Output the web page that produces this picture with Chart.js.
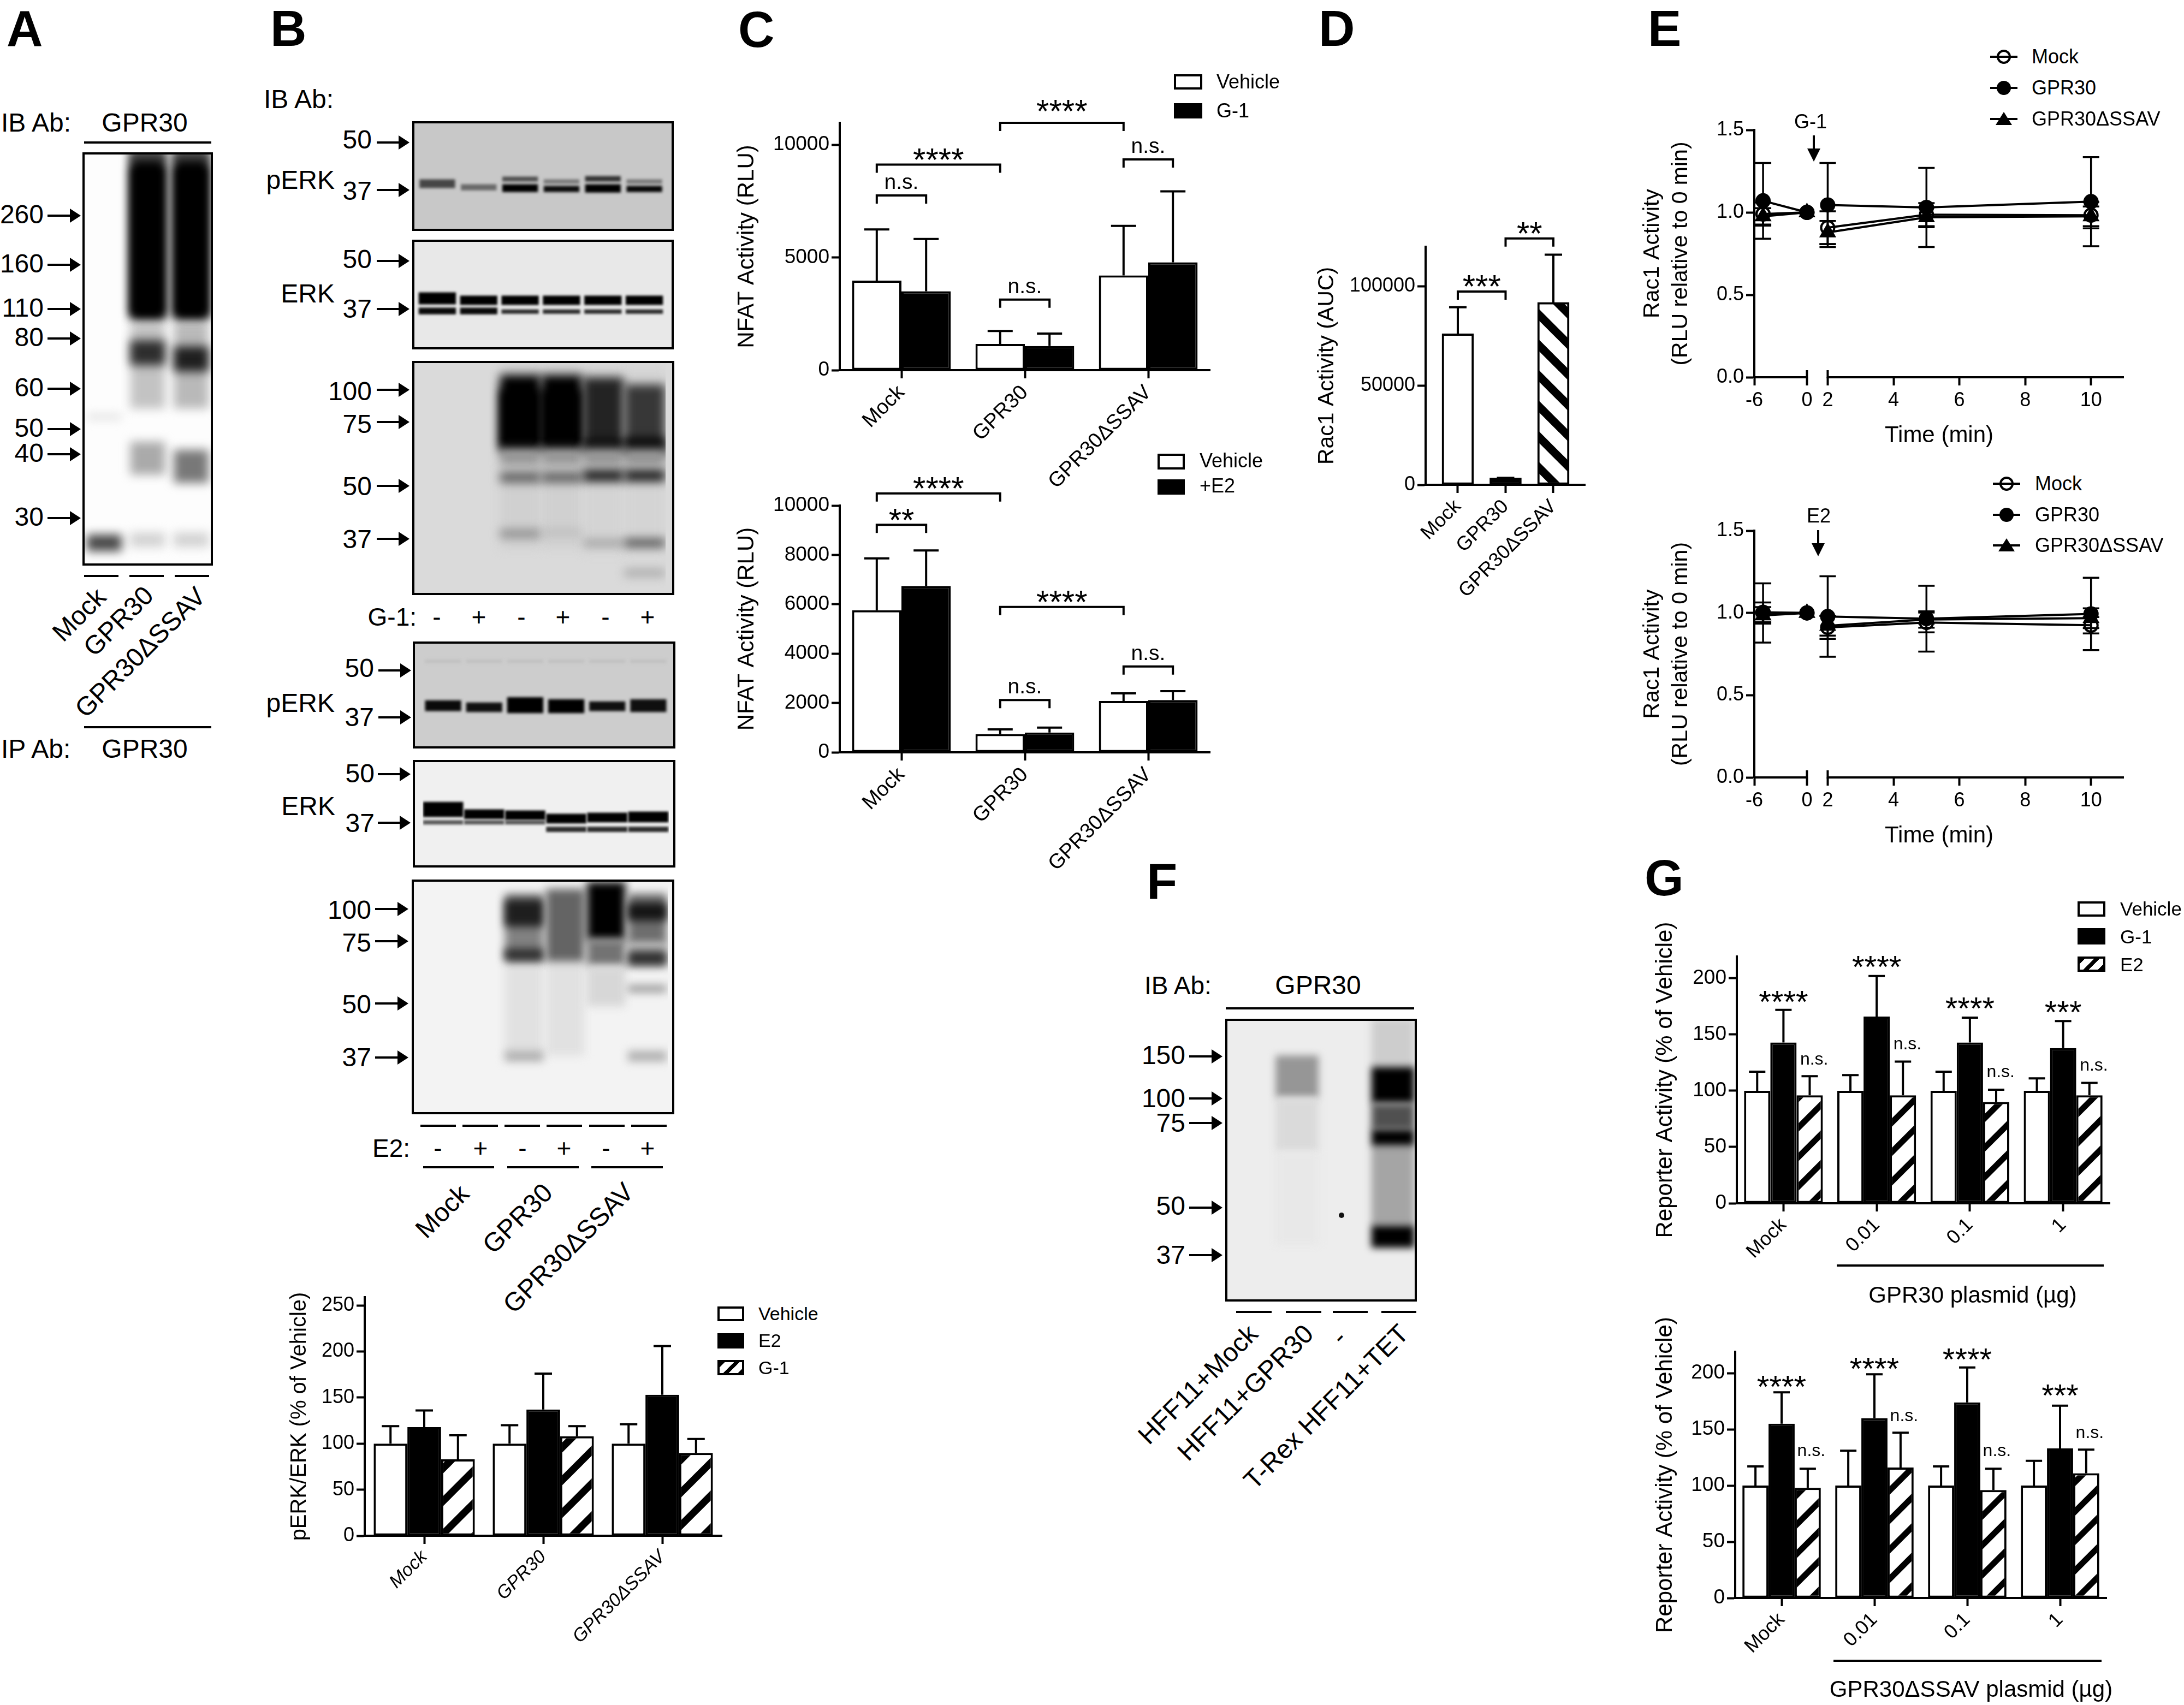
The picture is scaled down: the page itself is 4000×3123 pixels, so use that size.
<!DOCTYPE html>
<html>
<head>
<meta charset="utf-8">
<title>GPR30 figure</title>
<script src="https://cdn.jsdelivr.net/npm/chart.js@4"></script>
<style>
    body { margin: 0; background: #fff; }
    #page { position: relative; width: 4000px; height: 3123px; overflow: hidden; background: #fff; font-family: "Liberation Sans", Arial, sans-serif; color: #000; }
    #page canvas { position: absolute; }
    #page span { position: absolute; white-space: nowrap; line-height: 1; }
    #page svg { position: absolute; left: 0; top: 0; }
    .box { position: absolute; box-sizing: border-box; }
</style>
</head>
<body>
<div id="page"></div>
<script>
// ---- values ----
const mutantName = 'GPR30\u0394SSAV';
const constructs = ['Mock', 'GPR30', mutantName];
const doses = ['Mock', '0.01', '0.1', '1'];

// panel B, pERK/ERK
const erkTicks = [0, 50, 100, 150, 200, 250];
const erkVehicle = [100, 100, 100];
const erkVehicleTop = [119, 120, 121];
const erkE2 = [118, 137, 153];
const erkE2Top = [136, 176, 206];
const erkG1 = [83, 108, 90];
const erkG1Top = [109, 119, 105];

// panel C
const nfatTicksTop = [0, 5000, 10000];
const nfatVehicleTop = [3970, 1160, 4200];
const nfatVehicleTopErr = [6240, 1740, 6400];
const nfatG1 = [3500, 1070, 4780];
const nfatG1Err = [5820, 1620, 7930];
const nfatBracketsTop = [[-0.2, 0.2, 7750, 'n.s.'], [-0.2, 0.8, 9120, '****'], [0.8, 1.8, 10970, '****', 12], [1.8, 2.2, 9350, 'n.s.'], [0.8, 1.2, 3130, 'n.s.']];

const nfatTicksLow = [0, 2000, 4000, 6000, 8000, 10000];
const nfatVehicleLow = [5760, 740, 2080];
const nfatVehicleLowErr = [7860, 930, 2390];
const nfatE2 = [6740, 800, 2120];
const nfatE2Err = [8180, 1000, 2480];
const nfatBracketsLow = [[-0.2, 0.8, 10490, '****'], [-0.2, 0.2, 9220, '**'], [0.8, 1.8, 5890, '****'], [0.8, 1.2, 2120, 'n.s.'], [1.8, 2.2, 3480, 'n.s.']];

// panel D
const aucTicks = [0, 50000, 100000];
const aucValues = [76000, 3500, 91800];
const aucTops = [89400, 3500, 115800];
const aucBrackets = [[0, 1, 97300, '***'], [1, 2, 124000, '**']];

// panel E
const timeTicks = [-6, 0, 2, 4, 6, 8, 10];
const timePoints = [-5, 0, 2, 5, 10];
const racTicks = [0, 0.5, 1, 1.5];
const racMockG1 = [0.99, 1, 0.907, 0.986, 0.983];
const racGprG1 = [1.07, 1, 1.045, 1.03, 1.065];
const racMutG1 = [0.976, 1, 0.878, 0.97, 0.976];
const racMockG1Err = [0.07, 0, 0.1, 0.07, 0.08];
const racGprG1Err = [0.23, 0, 0.255, 0.24, 0.27];
const racMutG1Err = [0.05, 0, 0.07, 0.06, 0.06];
const racMockE2 = [1.004, 1, 0.912, 0.942, 0.925];
const racGprE2 = [1, 1, 0.978, 0.965, 0.994];
const racMutE2 = [0.985, 1, 0.922, 0.96, 0.968];
const racMockE2Err = [0.06, 0, 0.07, 0.06, 0.05];
const racGprE2Err = [0.18, 0, 0.245, 0.2, 0.22];
const racMutE2Err = [0.05, 0, 0.06, 0.05, 0.06];

// panel G
const reporterTicks = [0, 50, 100, 150, 200];
const gprVehicle = [100, 100, 100, 100];
const gprVehicleTop = [117, 114, 117, 111];
const gprG1 = [143, 166, 143, 138];
const gprG1Top = [172, 202, 165, 162];
const gprE2 = [96, 96, 90, 96];
const gprE2Top = [113, 126, 101, 107];
const gprNotes = [[0, 186, '****'], [1, 217, '****'], [2, 180, '****'], [3, 177, '***'], [0.33, 127, 'n.s.'], [1.33, 141, 'n.s.'], [2.33, 116, 'n.s.'], [3.33, 122, 'n.s.']];
const mutVehicle = [100, 100, 100, 100];
const mutVehicleTop = [117, 131, 117, 122];
const mutG1 = [155, 160, 174, 133];
const mutG1Top = [183, 199, 205, 171];
const mutE2 = [98, 116, 96, 111];
const mutE2Top = [115, 147, 115, 132];
const mutNotes = [[0, 195, '****'], [1, 211, '****'], [2, 219, '****'], [3, 187, '***'], [0.32, 130, 'n.s.'], [1.32, 161, 'n.s.'], [2.32, 130, 'n.s.'], [3.32, 146, 'n.s.']];

// blots: lanes hit, band top and bottom (% of the panel height), grey level
const blotALanes = [[1], [2], [1, 2], [1, 2], [1], [2], [1], [2], [1, 2], [0], [0], [1, 2]];
const blotATop = [41, 41, 0, 3, 45.5, 47, 70, 72, 92, 63.5, 92.5, 0];
const blotABottom = [62, 62, 40, 40, 51.5, 53, 78, 80, 95.5, 64.5, 96.5, 2];
const blotAGrey = [195, 185, 0, 0, 45, 30, 170, 120, 210, 215, 70, 70];

const blotB1Lanes = [[0], [1], [2], [3], [4], [5], [2], [3], [4], [5]];
const blotB1Top = [53, 57.5, 50.5, 53, 50, 53, 57.5, 59, 57.5, 59];
const blotB1Bottom = [61, 63, 55, 57, 55, 57, 64.5, 64.5, 65, 64.5];
const blotB1Grey = [70, 105, 80, 120, 50, 120, 0, 10, 0, 5];

const blotB2Lanes = [[0], [1, 2, 3, 4, 5], [0, 1], [2, 3, 4, 5]];
const blotB2Top = [48, 51, 62, 63.5];
const blotB2Bottom = [59, 59.5, 68, 67.5];
const blotB2Grey = [0, 0, 10, 45];

const blotB3Lanes = [[2, 3], [4, 5], [2, 3], [2, 3], [4], [5], [4], [5], [2, 3, 4, 5], [2, 3], [4, 5], [2], [3], [4], [5], [5]];
const blotB3Top = [2, 3, 6, 12, 7, 10, 34, 33, 37.5, 47.5, 46.5, 72, 72, 76.5, 76, 89];
const blotB3Bottom = [80, 82, 38, 38, 38, 38, 39, 40, 44.5, 52, 51.5, 75.5, 74.5, 79, 79.5, 92];
const blotB3Grey = [208, 212, 0, 0, 35, 55, 0, 0, 150, 95, 25, 140, 185, 150, 80, 165];

const blotB4Lanes = [[0, 1, 2, 3, 4, 5], [0], [1], [2], [3], [4], [5]];
const blotB4Top = [17, 55, 57, 52, 54, 56, 54];
const blotB4Bottom = [20, 65, 66, 67, 67, 65, 66];
const blotB4Grey = [192, 10, 15, 0, 0, 15, 15];

const blotB5Lanes = [[0], [1], [2], [3], [4], [5], [0, 1, 2], [3, 4, 5]];
const blotB5Top = [39, 46, 47, 50, 49, 48, 56, 62];
const blotB5Bottom = [53, 55, 56, 59, 58, 58, 60, 67];
const blotB5Grey = [0, 0, 0, 0, 0, 0, 90, 45];

const blotB6Lanes = [[2, 3], [2], [2], [2], [3], [4], [4], [4], [5], [5], [5], [5], [5], [2, 5]];
const blotB6Top = [35, 6, 8.5, 29.5, 4, 1, 25.5, 37, 6, 10, 27, 30.5, 45, 73];
const blotB6Bottom = [75, 35, 20, 34.5, 35, 26, 37, 54, 28, 17.5, 37, 36.5, 48, 77.5];
const blotB6Grey = [225, 130, 30, 45, 100, 0, 115, 215, 110, 20, 175, 45, 150, 175];

const blotFLanes = [[1], [1], [1], [3], [3], [3], [3], [3], [3]];
const blotFTop = [13, 28, 47, 0, 45, 17, 30, 39, 73];
const blotFBottom = [28, 47, 80, 17, 73, 30, 39, 45, 81];
const blotFGrey = [150, 218, 232, 205, 165, 0, 80, 0, 0];

// ---- page helpers ----
Chart.defaults.font.family = '"Liberation Sans", Arial, sans-serif';
Chart.defaults.color = '#000';

const page = document.getElementById('page');
let svgBody = '';

const txt = (s, x, y, size, o = {}) => {
    const el = document.createElement('span');
    el.textContent = s;
    const shift = o.align === 'left' ? '0' : o.align === 'right' ? '-100%' : '-50%';
    el.style.cssText = `left:${x}px;top:${y}px;font-size:${size}px;transform:translate(${shift},-50%) rotate(${o.rot || 0}deg);` +
        (o.bold ? 'font-weight:bold;' : '');
    page.appendChild(el);
};

const line = (x0, y0, x1, y1, w = 4) => {
    svgBody += `<line x1="${x0}" y1="${y0}" x2="${x1}" y2="${y1}" stroke="#000" stroke-width="${w}"/>`;
};

const arrowRight = (x0, x1, y) => {
    line(x0, y, x1 - 18, y, 4);
    svgBody += `<polygon points="${x1},${y} ${x1 - 20},${y - 13} ${x1 - 20},${y + 13}" fill="#000"/>`;
};

const arrowDown = (x, y0, y1) => {
    line(x, y0, x, y1 - 18, 4);
    svgBody += `<polygon points="${x},${y1} ${x - 12},${y1 - 24} ${x + 12},${y1 - 24}" fill="#000"/>`;
};

const addCanvas = (x, y, w, h) => {
    const c = document.createElement('canvas');
    c.width = Math.round(w);
    c.height = Math.round(h);
    c.style.left = Math.round(x) + 'px';
    c.style.top = Math.round(y) + 'px';
    page.appendChild(c);
    return c;
};

const hatch = (period, width, falling) => {
    const tile = document.createElement('canvas');
    tile.width = period;
    tile.height = period;
    const g = tile.getContext('2d');
    g.fillStyle = '#fff';
    g.fillRect(0, 0, period, period);
    if (falling) {
        g.translate(period, 0);
        g.scale(-1, 1);
    }
    g.strokeStyle = '#000';
    g.lineWidth = width;
    // lines run past the tile so the stripes join up at the seams
    for (let k = -1; k <= 1; k++) {
        g.beginPath();
        g.moveTo(k * period - period, 2 * period);
        g.lineTo(k * period + 2 * period, -period);
        g.stroke();
    }
    return g.createPattern(tile, 'repeat');
};

const swatch = (x0, y0, x1, y1, kind) => {
    const b = document.createElement('div');
    b.className = 'box';
    let fill = kind === 'black' ? '#000' : '#fff';
    if (kind === 'hatch') fill = 'repeating-linear-gradient(135deg,#000 0 7px,#fff 7px 19px)';
    b.style.cssText = `left:${x0}px;top:${y0}px;width:${x1 - x0}px;height:${y1 - y0}px;border:4px solid #000;background:${fill};`;
    page.appendChild(b);
};

const lineKey = (x0, x1, y, kind) => {
    line(x0, y, x1, y, 4);
    const c = (x0 + x1) / 2;
    if (kind === 'open') svgBody += `<circle cx="${c}" cy="${y}" r="11" fill="none" stroke="#000" stroke-width="4"/>`;
    if (kind === 'closed') svgBody += `<circle cx="${c}" cy="${y}" r="13" fill="#000"/>`;
    if (kind === 'triangle') svgBody += `<polygon points="${c},${y - 13} ${c + 15},${y + 11} ${c - 15},${y + 11}" fill="#000"/>`;
};

// ---- chart plugins ----
const errorBars = {
    id: 'errorBars',
    afterDatasetsDraw(chart) {
        const ctx = chart.ctx;
        const y = chart.scales.y;
        ctx.save();
        ctx.strokeStyle = '#000';
        chart.data.datasets.forEach((ds, i) => {
            const pts = chart.getDatasetMeta(i).data;
            ctx.lineWidth = ds.errWidth || 4;
            const cap = (ds.capWidth || 44) / 2;
            pts.forEach((p, j) => {
                if (ds.tops && ds.tops[j] != null) {
                    const t = y.getPixelForValue(ds.tops[j]);
                    ctx.beginPath();
                    ctx.moveTo(p.x, p.y);
                    ctx.lineTo(p.x, t);
                    ctx.moveTo(p.x - cap, t);
                    ctx.lineTo(p.x + cap, t);
                    ctx.stroke();
                }
                if (ds.errs && ds.errs[j]) {
                    const v = ds.data[j].y;
                    const hi = y.getPixelForValue(v + ds.errs[j]);
                    const lo = y.getPixelForValue(v - ds.errs[j]);
                    ctx.beginPath();
                    ctx.moveTo(p.x, hi);
                    ctx.lineTo(p.x, lo);
                    ctx.moveTo(p.x - cap, hi);
                    ctx.lineTo(p.x + cap, hi);
                    ctx.moveTo(p.x - cap, lo);
                    ctx.lineTo(p.x + cap, lo);
                    ctx.stroke();
                }
            });
        });
        ctx.restore();
    }
};

const drawLabel = (ctx, s, x, y, size) => {
    ctx.font = `${size}px "Liberation Sans", Arial, sans-serif`;
    ctx.textAlign = 'center';
    ctx.textBaseline = 'alphabetic';
    ctx.fillStyle = '#000';
    ctx.fillText(s, x, y);
};

const marks = (brackets, notes, starSize, nsSize) => ({
    id: 'marks',
    afterDraw(chart) {
        const ctx = chart.ctx;
        const xs = chart.scales.x;
        const ys = chart.scales.y;
        ctx.save();
        ctx.strokeStyle = '#000';
        ctx.lineWidth = 4;
        (brackets || []).forEach(([a, b, v, s, lift]) => {
            const x0 = xs.getPixelForValue(a);
            const x1 = xs.getPixelForValue(b);
            const y = ys.getPixelForValue(v);
            ctx.beginPath();
            ctx.moveTo(x0, y + 15);
            ctx.lineTo(x0, y);
            ctx.lineTo(x1, y);
            ctx.lineTo(x1, y + 15);
            ctx.stroke();
            if (s === 'n.s.') drawLabel(ctx, s, (x0 + x1) / 2, y - 12, nsSize);
            else drawLabel(ctx, s, (x0 + x1) / 2, y - 24 - (lift || 0) + 0.59 * starSize, starSize);
        });
        (notes || []).forEach(([a, v, s]) => {
            const x = xs.getPixelForValue(a);
            const y = ys.getPixelForValue(v);
            if (s === 'n.s.') drawLabel(ctx, s, x, y + nsSize * 0.25, nsSize);
            else drawLabel(ctx, s, x, y + 0.59 * starSize, starSize);
        });
        ctx.restore();
    }
});

const softEdges = (blur) => ({
    id: 'softEdges',
    beforeDatasetDraw(chart) {
        chart.ctx.save();
        chart.ctx.filter = `blur(${blur}px)`;
    },
    afterDatasetDraw(chart) {
        chart.ctx.restore();
    }
});

// the time axis is broken between 0 and 2 min
const breakX = (t) => {
    if (t <= 0) return (t + 6) * 15.3;
    if (t < 2) return 92 + t * 18;
    return 128 + (t - 2) * 57.4;
};

const brokenAxis = {
    id: 'brokenAxis',
    afterDraw(chart) {
        const ctx = chart.ctx;
        const xs = chart.scales.x;
        const y = chart.chartArea.bottom;
        ctx.save();
        ctx.strokeStyle = '#000';
        ctx.lineWidth = 4;
        ctx.beginPath();
        ctx.moveTo(xs.getPixelForValue(breakX(-6)), y);
        ctx.lineTo(xs.getPixelForValue(breakX(0)), y);
        ctx.moveTo(xs.getPixelForValue(breakX(0)), y);
        ctx.lineTo(xs.getPixelForValue(breakX(0)), y - 13);
        ctx.moveTo(xs.getPixelForValue(breakX(2)), y - 13);
        ctx.lineTo(xs.getPixelForValue(breakX(2)), y);
        ctx.lineTo(xs.getPixelForValue(breakX(11)), y);
        ctx.stroke();
        ctx.restore();
    }
};

const noPadding = (s) => {
    s.paddingLeft = 0;
    s.paddingRight = 0;
    s.paddingTop = 0;
    s.paddingBottom = 0;
};

const axisBase = (tickSize) => ({
    grid: { drawOnChartArea: false, tickLength: 15, tickWidth: 4, tickColor: '#000', offset: false },
    border: { color: '#000', width: 4 },
    ticks: { font: { size: tickSize }, color: '#000' }
});

const yAxis = (o, gutter, ticks, fmt) => {
    const a = axisBase(o.tickSize);
    a.min = 0;
    a.max = o.yMax;
    a.ticks.padding = 4;
    a.ticks.callback = fmt;
    a.title = { display: true, text: o.title, padding: 0, color: '#000', font: { size: o.titleSize, lineHeight: o.titleLine || 1.2 } };
    a.afterBuildTicks = (s) => { s.ticks = ticks.map((v) => ({ value: v })); };
    a.afterFit = (s) => { s.width = gutter; noPadding(s); };
    return a;
};

// one bar panel, o.plot is the plot box on the page
const barPanel = (o) => {
    const [x0, yTop, x1, yBot] = o.plot;
    const left = Math.round(o.titleCx - 0.6 * o.titleSize);
    const head = 120;
    const foot = o.foot || 330;
    const tail = 30;
    const canvas = addCanvas(left, yTop - head, x1 - left + tail, yBot - yTop + head + foot);

    const x = axisBase(o.labelSize);
    x.ticks.font.style = o.italic ? 'italic' : 'normal';
    x.ticks.minRotation = 45;
    x.ticks.maxRotation = 45;
    x.ticks.autoSkip = false;
    x.ticks.padding = 4;
    x.afterFit = (s) => { s.height = foot; noPadding(s); };
    if (o.xRange) {
        x.type = 'linear';
        x.offset = false;
        x.min = o.xRange[0];
        x.max = o.xRange[1];
        x.afterBuildTicks = (s) => { s.ticks = o.labels.map((l, i) => ({ value: i })); };
        x.ticks.callback = (v, i) => o.labels[i];
    }

    const datasets = o.series.map((s) => ({
        data: o.xRange ? s.values.map((v, i) => ({ x: i, y: v })) : s.values,
        tops: s.tops,
        backgroundColor: s.fill,
        borderColor: '#000',
        borderWidth: 4,
        borderSkipped: false,
        capWidth: o.capWidth,
        barThickness: o.barThickness
    }));

    return new Chart(canvas, {
        type: 'bar',
        data: { labels: o.labels, datasets: datasets },
        options: {
            responsive: false,
            animation: false,
            events: [],
            layout: { padding: { top: head, right: tail, left: 0, bottom: 0 } },
            plugins: { legend: { display: false }, tooltip: { enabled: false } },
            datasets: { bar: { categoryPercentage: o.groupWidth, barPercentage: 1 } },
            scales: { x: x, y: yAxis(o, x0 - left, o.ticks, (v) => String(v)) }
        },
        plugins: [errorBars, marks(o.brackets, o.notes, o.starSize, o.nsSize)]
    });
};

// insert a gap so the line stops at the axis break
const withGap = (times, vals) => {
    const out = [];
    times.forEach((t, i) => {
        out.push(vals(t, i));
        if (t === 0) out.push(null);
    });
    return out;
};

const timePanel = (o) => {
    const [x0, yTop, x1, yBot] = o.plot;
    const left = Math.round(o.titleCx - 0.6 * o.titleSize);
    const head = 30;
    const foot = 133;
    const tail = 30;
    const canvas = addCanvas(left, yTop - head, x1 - left + tail, yBot - yTop + head + foot);

    const pack = (values) => withGap(timePoints, (t, i) => ({ x: breakX(t), y: values[i] }))
        .map((p) => p || { x: breakX(1), y: null });
    const errsOf = (errs) => withGap(timePoints, (t, i) => errs[i]);

    const makeSet = (values, errs, style, open) => ({
        data: pack(values),
        errs: errsOf(errs),
        errWidth: 3.5,
        capWidth: 30,
        borderColor: '#000',
        borderWidth: 4,
        spanGaps: false,
        clip: false,
        pointStyle: style,
        pointRadius: style === 'triangle' ? 14 : 12,
        pointBorderWidth: 4,
        pointBorderColor: '#000',
        pointBackgroundColor: open ? 'rgba(0,0,0,0)' : '#000'
    });

    const x = axisBase(o.tickSize);
    x.type = 'linear';
    x.min = breakX(-6);
    x.max = breakX(11);
    x.border = { display: false };
    x.ticks.padding = 6;
    x.ticks.autoSkip = false;
    x.ticks.maxRotation = 0;
    x.ticks.callback = (v, i) => timeTicks[i];
    x.afterBuildTicks = (s) => { s.ticks = timeTicks.map((t) => ({ value: breakX(t) })); };
    x.afterFit = (s) => { s.height = foot; noPadding(s); };
    x.title = { display: true, text: 'Time (min)', padding: 0, color: '#000', font: { size: 42 } };

    return new Chart(canvas, {
        type: 'line',
        data: {
            datasets: [
                makeSet(o.gpr, o.gprErr, 'circle', false),
                makeSet(o.mut, o.mutErr, 'triangle', false),
                makeSet(o.mock, o.mockErr, 'circle', true)
            ]
        },
        options: {
            responsive: false,
            animation: false,
            events: [],
            layout: { padding: { top: head, right: tail, left: 0, bottom: 0 } },
            plugins: { legend: { display: false }, tooltip: { enabled: false } },
            scales: { x: x, y: yAxis(o, x0 - left, racTicks, (v) => v.toFixed(1)) }
        },
        plugins: [errorBars, brokenAxis]
    });
};

// a blot is a floating bar chart on a grey ground, bands softened with a blur
const blot = (box, back, pads, laneCount, blur, width, lanes, tops, bottoms, greys) => {
    const [x0, y0, x1, y1] = box;
    const ground = document.createElement('div');
    ground.className = 'box';
    ground.style.cssText = `left:${x0}px;top:${y0}px;width:${x1 - x0}px;height:${y1 - y0}px;background:rgb(${back},${back},${back});`;
    page.appendChild(ground);

    const canvas = addCanvas(x0, y0, x1 - x0, y1 - y0);
    const names = [];
    for (let i = 0; i < laneCount; i++) names.push('lane ' + (i + 1));
    const datasets = tops.map((t, i) => {
        const d = new Array(laneCount).fill(null);
        lanes[i].forEach((l) => { d[l] = [t, bottoms[i]]; });
        return {
            data: d,
            order: -i,
            grouped: false,
            barPercentage: width,
            categoryPercentage: 1,
            backgroundColor: `rgb(${greys[i]},${greys[i]},${greys[i]})`
        };
    });
    new Chart(canvas, {
        type: 'bar',
        data: { labels: names, datasets: datasets },
        options: {
            responsive: false,
            animation: false,
            events: [],
            layout: { padding: { left: pads[0], right: pads[1], top: 0, bottom: 0 } },
            plugins: { legend: { display: false }, tooltip: { enabled: false } },
            scales: {
                x: { display: false },
                y: { display: false, reverse: true, min: 0, max: 100 }
            }
        },
        plugins: [softEdges(blur)]
    });

    const frame = document.createElement('div');
    frame.className = 'box';
    frame.style.cssText = `left:${x0}px;top:${y0}px;width:${x1 - x0}px;height:${y1 - y0}px;border:4px solid #000;`;
    page.appendChild(frame);
};

// ---- panel letters ----
txt('A', 12, 52, 92, { align: 'left', bold: true });
txt('B', 495, 52, 92, { align: 'left', bold: true });
txt('C', 1352, 54, 92, { align: 'left', bold: true });
txt('D', 2415, 52, 92, { align: 'left', bold: true });
txt('E', 3018, 52, 92, { align: 'left', bold: true });
txt('F', 2100, 1614, 92, { align: 'left', bold: true });
txt('G', 3012, 1608, 92, { align: 'left', bold: true });

// ---- panel A ----
blot([151, 279, 390, 1036], 253, [0, 0], 3, 9, 0.8, blotALanes, blotATop, blotABottom, blotAGrey);
txt('IB Ab:', 2, 225, 48, { align: 'left' });
txt('GPR30', 265, 225, 48);
line(154, 261, 387, 261);
[['260', 393], ['160', 483], ['110', 564], ['80', 618], ['60', 710], ['50', 784], ['40', 830], ['30', 947]].forEach(([s, y]) => {
    txt(s, 80, y, 48, { align: 'right' });
    arrowRight(87, 148, y + 2);
});
[[154, 217], [237, 300], [320, 383]].forEach(([a, b]) => line(a, 1055, b, 1055));
txt('Mock', 145, 1126, 48, { rot: -45 });
txt('GPR30', 217, 1138, 48, { rot: -45 });
txt(mutantName, 257, 1195, 48, { rot: -45 });
line(154, 1332, 387, 1332);
txt('IP Ab:', 2, 1372, 48, { align: 'left' });
txt('GPR30', 265, 1372, 48);

// ---- panel B blots ----
blot([755, 222, 1234, 423], 200, [8, 16], 6, 2.5, 0.86, blotB1Lanes, blotB1Top, blotB1Bottom, blotB1Grey);
blot([755, 439, 1234, 640], 232, [8, 16], 6, 2, 0.9, blotB2Lanes, blotB2Top, blotB2Bottom, blotB2Grey);
blot([755, 661, 1235, 1090], 218, [8, 16], 6, 9, 0.98, blotB3Lanes, blotB3Top, blotB3Bottom, blotB3Grey);
blot([756, 1175, 1237, 1371], 205, [18, 12], 6, 2.5, 0.88, blotB4Lanes, blotB4Top, blotB4Bottom, blotB4Grey);
blot([756, 1392, 1237, 1589], 240, [18, 12], 6, 2, 0.98, blotB5Lanes, blotB5Top, blotB5Bottom, blotB5Grey);
blot([754, 1611, 1235, 2041], 243, [18, 12], 6, 8, 0.94, blotB6Lanes, blotB6Top, blotB6Bottom, blotB6Grey);

txt('IB Ab:', 483, 182, 48, { align: 'left' });
txt('pERK', 613, 330, 48, { align: 'right' });
txt('ERK', 613, 538, 48, { align: 'right' });
txt('pERK', 613, 1288, 48, { align: 'right' });
txt('ERK', 614, 1477, 48, { align: 'right' });

[['50', 681, 256, 690, 750, 261], ['37', 681, 350, 690, 750, 348], ['50', 681, 475, 690, 750, 478], ['37', 681, 566, 690, 750, 566],
 ['100', 681, 717, 690, 750, 714], ['75', 681, 777, 690, 750, 773], ['50', 681, 891, 690, 750, 890], ['37', 681, 988, 690, 750, 987],
 ['50', 685, 1224, 693, 753, 1228], ['37', 685, 1314, 693, 753, 1314], ['50', 686, 1417, 692, 752, 1418], ['37', 686, 1508, 692, 752, 1507],
 ['100', 680, 1667, 687, 748, 1665], ['75', 680, 1727, 687, 748, 1724], ['50', 680, 1840, 687, 748, 1838], ['37', 680, 1937, 687, 748, 1937]
].forEach(([s, right, y, a, b, ay]) => {
    txt(s, right, y, 48, { align: 'right' });
    arrowRight(a, b, ay);
});

txt('G-1:', 763, 1130, 46, { align: 'right' });
[['-', 800], ['+', 877], ['-', 955], ['+', 1031], ['-', 1109], ['+', 1186]].forEach(([s, x]) => txt(s, x, 1130, 46));
[[770, 835], [847, 912], [924, 989], [1001, 1066], [1079, 1144], [1156, 1221]].forEach(([a, b]) => line(a, 2062, b, 2062));
txt('E2:', 751, 2103, 46, { align: 'right' });
[['-', 802], ['+', 880], ['-', 957], ['+', 1033], ['-', 1110], ['+', 1186]].forEach(([s, x]) => txt(s, x, 2103, 46));
[[775, 905], [929, 1060], [1083, 1214]].forEach(([a, b]) => line(a, 2138, b, 2138));
txt('Mock', 810, 2219, 48, { rot: -45 });
txt('GPR30', 948, 2232, 48, { rot: -45 });
txt(mutantName, 1041, 2286, 48, { rot: -45 });

// ---- panel B chart ----
const hatchB = hatch(60, 13, false);
barPanel({
    plot: [668, 2376, 1322, 2813], titleCx: 549, titleSize: 40, title: 'pERK/ERK (% of Vehicle)',
    tickSize: 36, labelSize: 34, italic: true, labels: constructs, yMax: 259, ticks: erkTicks, groupWidth: 0.85, capWidth: 32,
    series: [
        { values: erkVehicle, tops: erkVehicleTop, fill: '#fff' },
        { values: erkE2, tops: erkE2Top, fill: '#000' },
        { values: erkG1, tops: erkG1Top, fill: hatchB }
    ]
});
swatch(1314, 2393, 1363, 2420, 'white');
swatch(1314, 2442, 1363, 2470, 'black');
swatch(1314, 2491, 1363, 2519, 'hatch');
txt('Vehicle', 1389, 2406, 34, { align: 'left' });
txt('E2', 1389, 2455, 34, { align: 'left' });
txt('G-1', 1389, 2505, 34, { align: 'left' });

// ---- panel C ----
barPanel({
    plot: [1538, 225, 2216, 678], titleCx: 1368, titleSize: 42, title: 'NFAT Activity (RLU)',
    tickSize: 37, labelSize: 38, labels: constructs, yMax: 10970, ticks: nfatTicksTop, groupWidth: 0.8, capWidth: 46,
    brackets: nfatBracketsTop, starSize: 60, nsSize: 39,
    series: [
        { values: nfatVehicleTop, tops: nfatVehicleTopErr, fill: '#fff' },
        { values: nfatG1, tops: nfatG1Err, fill: '#000' }
    ]
});
swatch(2150, 136, 2202, 164, 'white');
swatch(2150, 189, 2202, 217, 'black');
txt('Vehicle', 2228, 150, 36, { align: 'left' });
txt('G-1', 2228, 203, 36, { align: 'left' });

barPanel({
    plot: [1538, 926, 2216, 1378], titleCx: 1368, titleSize: 42, title: 'NFAT Activity (RLU)',
    tickSize: 37, labelSize: 38, labels: constructs, yMax: 10000, ticks: nfatTicksLow, groupWidth: 0.8, capWidth: 46,
    brackets: nfatBracketsLow, starSize: 60, nsSize: 39,
    series: [
        { values: nfatVehicleLow, tops: nfatVehicleLowErr, fill: '#fff' },
        { values: nfatE2, tops: nfatE2Err, fill: '#000' }
    ]
});
swatch(2120, 831, 2170, 860, 'white');
swatch(2120, 878, 2170, 906, 'black');
txt('Vehicle', 2197, 844, 36, { align: 'left' });
txt('+E2', 2197, 890, 36, { align: 'left' });

// ---- panel D ----
barPanel({
    plot: [2611, 452, 2903, 888], titleCx: 2431, titleSize: 41, title: 'Rac1 Activity (AUC)',
    tickSize: 36, labelSize: 36, labels: constructs, yMax: 119800, ticks: aucTicks, xRange: [-0.674, 2.663],
    groupWidth: 1, barThickness: 58, capWidth: 32, brackets: aucBrackets, starSize: 60, nsSize: 39,
    series: [{ values: aucValues, tops: aucTops, fill: ['#fff', '#000', hatch(56, 15, true)] }]
});

// ---- panel E ----
timePanel({
    plot: [3213, 238, 3890, 691], titleCx: 3026, titleSize: 41, titleLine: 1.27, title: ['Rac1 Activity', '(RLU relative to 0 min)'],
    tickSize: 36, yMax: 1.5, mock: racMockG1, gpr: racGprG1, mut: racMutG1, mockErr: racMockG1Err, gprErr: racGprG1Err, mutErr: racMutG1Err
});
timePanel({
    plot: [3213, 972, 3890, 1424], titleCx: 3026, titleSize: 41, titleLine: 1.27, title: ['Rac1 Activity', '(RLU relative to 0 min)'],
    tickSize: 36, yMax: 1.5, mock: racMockE2, gpr: racGprE2, mut: racMutE2, mockErr: racMockE2Err, gprErr: racGprE2Err, mutErr: racMutE2Err
});
txt('G-1', 3316, 223, 36);
arrowDown(3322, 248, 296);
txt('E2', 3331, 945, 36);
arrowDown(3330, 971, 1019);
lineKey(3645, 3695, 104, 'open');
lineKey(3645, 3695, 161, 'closed');
lineKey(3645, 3695, 218, 'triangle');
txt('Mock', 3721, 104, 36, { align: 'left' });
txt('GPR30', 3721, 161, 36, { align: 'left' });
txt(mutantName, 3721, 218, 36, { align: 'left' });
lineKey(3650, 3700, 886, 'open');
lineKey(3650, 3700, 943, 'closed');
lineKey(3650, 3700, 999, 'triangle');
txt('Mock', 3727, 886, 36, { align: 'left' });
txt('GPR30', 3727, 943, 36, { align: 'left' });
txt(mutantName, 3727, 999, 36, { align: 'left' });

// ---- panel F ----
blot([2244, 1866, 2595, 2384], 237, [0, 0], 4, 7, 0.9, blotFLanes, blotFTop, blotFBottom, blotFGrey);
svgBody += '<circle cx="2457" cy="2226" r="5" fill="#111"/>';
txt('IB Ab:', 2096, 1805, 46, { align: 'left' });
txt('GPR30', 2414, 1805, 48);
line(2245, 1847, 2590, 1847);
[['150', 1933, 1935], ['100', 2012, 2012], ['75', 2057, 2057], ['50', 2209, 2212], ['37', 2299, 2299]].forEach(([s, y, ay]) => {
    txt(s, 2171, y, 48, { align: 'right' });
    arrowRight(2178, 2239, ay);
});
[[2264, 2329], [2355, 2420], [2441, 2505], [2530, 2594]].forEach(([a, b]) => line(a, 2403, b, 2403));
txt('HFF11+Mock', 2194, 2536, 48, { rot: -45 });
txt('HFF11+GPR30', 2281, 2551, 48, { rot: -45 });
txt('-', 2452, 2449, 48, { rot: -45 });
txt('T-Rex HFF11+TET', 2429, 2577, 48, { rot: -45 });

// ---- panel G ----
const hatchG = hatch(54, 11, false);
barPanel({
    plot: [3181, 1752, 3864, 2204], titleCx: 3050, titleSize: 42, title: 'Reporter Activity (% of Vehicle)',
    tickSize: 37, labelSize: 36, labels: doses, yMax: 219.4, ticks: reporterTicks, groupWidth: 0.845, capWidth: 30,
    notes: gprNotes, starSize: 58, nsSize: 32,
    series: [
        { values: gprVehicle, tops: gprVehicleTop, fill: '#fff' },
        { values: gprG1, tops: gprG1Top, fill: '#000' },
        { values: gprE2, tops: gprE2Top, fill: hatchG }
    ]
});
swatch(3805, 1651, 3856, 1679, 'white');
swatch(3805, 1700, 3856, 1730, 'black');
swatch(3805, 1752, 3856, 1780, 'hatch');
txt('Vehicle', 3883, 1664, 35, { align: 'left' });
txt('G-1', 3883, 1715, 35, { align: 'left' });
txt('E2', 3883, 1766, 35, { align: 'left' });
line(3364, 2318, 3853, 2318);
txt('GPR30 plasmid (\u00b5g)', 3613, 2372, 42);

barPanel({
    plot: [3178, 2476, 3858, 2927], titleCx: 3050, titleSize: 42, title: 'Reporter Activity (% of Vehicle)',
    tickSize: 37, labelSize: 36, labels: doses, yMax: 219, ticks: reporterTicks, groupWidth: 0.845, capWidth: 30,
    notes: mutNotes, starSize: 58, nsSize: 32,
    series: [
        { values: mutVehicle, tops: mutVehicleTop, fill: '#fff' },
        { values: mutG1, tops: mutG1Top, fill: '#000' },
        { values: mutE2, tops: mutE2Top, fill: hatchG }
    ]
});
line(3358, 3042, 3849, 3042);
txt(mutantName + ' plasmid (\u00b5g)', 3610, 3094, 42);

// lines and arrows go on top of everything
const overlay = document.createElementNS('http://www.w3.org/2000/svg', 'svg');
overlay.setAttribute('width', 4000);
overlay.setAttribute('height', 3123);
overlay.innerHTML = svgBody;
page.appendChild(overlay);
</script>
</body>
</html>
